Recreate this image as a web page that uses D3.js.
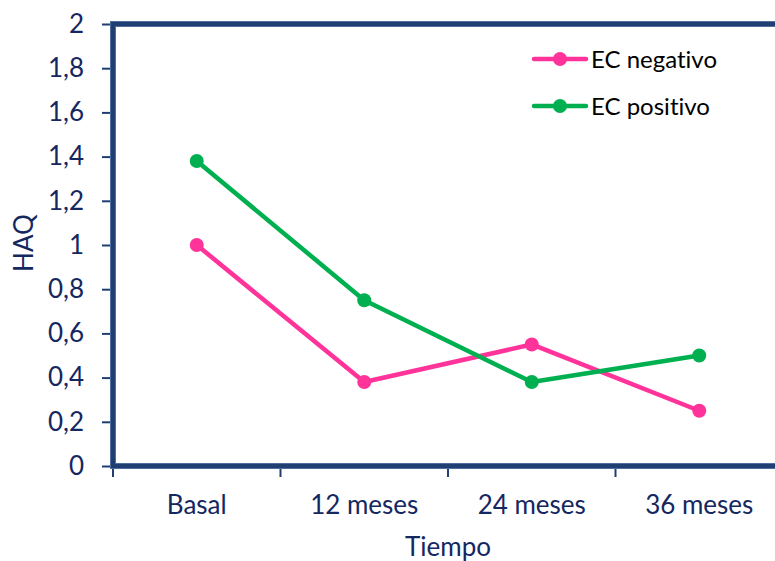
<!DOCTYPE html>
<html>
<head>
<meta charset="utf-8">
<script src="https://cdn.jsdelivr.net/npm/d3@7"></script>
<style>
  html, body { margin: 0; padding: 0; background: #fff; }
  svg { display: block; font-family: Lato, "Open Sans", sans-serif; font-variant-ligatures: none; font-feature-settings: "liga" 0, "clig" 0; }
</style>
</head>
<body>
<svg id="chart" width="775" height="561"></svg>
<script>
const categories = ["Basal", "12 meses", "24 meses", "36 meses"];
const ecNegativo = [1.0, 0.38, 0.55, 0.25];
const ecPositivo = [1.38, 0.75, 0.38, 0.5];
const yTicks = [0, 0.2, 0.4, 0.6, 0.8, 1, 1.2, 1.4, 1.6, 1.8, 2];
const seriesNames = ["EC negativo", "EC positivo"];
const seriesColors = ["#ff3399", "#00b050"];

const svg = d3.select("#chart");
const navy = "#14275f";
const frame = "#1f3f73";

const plotLeft = 113, plotRight = 783, plotTop = 24, plotBottom = 466;

const x = d3.scaleBand().domain(categories).range([plotLeft, plotRight]).padding(0);
const y = d3.scaleLinear().domain([0, 2]).range([plotBottom, plotTop]);

const fmt = d => d3.format("")(d).replace(".", ",");

// Y axis ticks and labels
const yAxis = d3.axisLeft(y).tickValues(yTicks).tickFormat(fmt).tickSize(9).tickPadding(18);
const gy = svg.append("g").attr("transform", `translate(${plotLeft - 2},0)`).call(yAxis);
gy.select(".domain").remove();
gy.selectAll(".tick line").attr("stroke", frame).attr("stroke-width", 2);
gy.selectAll(".tick text").attr("fill", navy).style("font-size", "26px").style("font-family", "Lato, sans-serif");

// X axis ticks at category boundaries
const boundaries = categories.map(c => x(c));
svg.append("g").selectAll("line").data(boundaries).join("line")
  .attr("x1", d => d).attr("x2", d => d)
  .attr("y1", plotBottom).attr("y2", plotBottom + 11)
  .attr("stroke", frame).attr("stroke-width", 2);

// X labels
svg.append("g").selectAll("text").data(categories).join("text")
  .attr("x", d => x(d) + x.bandwidth() / 2)
  .attr("y", 514)
  .attr("text-anchor", "middle")
  .attr("fill", navy)
  .style("font-size", "26px")
  .text(d => d);

// Plot frame (left, top, bottom)
const framePath = `M${plotRight + 10},${plotTop} L${plotLeft},${plotTop} L${plotLeft},${plotBottom} L${plotRight + 10},${plotBottom}`;
svg.append("path").attr("d", framePath).attr("fill", "none")
  .attr("stroke", "#4f6f9f").attr("stroke-width", 6);
svg.append("path").attr("d", framePath).attr("fill", "none")
  .attr("stroke", frame).attr("stroke-width", 4);

// Axis titles
svg.append("text")
  .attr("transform", "translate(33,243) rotate(-90)")
  .attr("text-anchor", "middle")
  .attr("fill", navy)
  .style("font-size", "26px")
  .text("HAQ");
svg.append("text")
  .attr("x", 448).attr("y", 556)
  .attr("text-anchor", "middle")
  .attr("fill", navy)
  .style("font-size", "26px")
  .text("Tiempo");

// Series
const series = [ecNegativo, ecPositivo];
const line = d3.line().x((d, i) => x(categories[i]) + x.bandwidth() / 2).y(d => y(d));
series.forEach((vals, s) => {
  const g = svg.append("g");
  g.append("path").datum(vals).attr("d", line)
    .attr("fill", "none").attr("stroke", seriesColors[s]).attr("stroke-width", 4.5)
    .attr("stroke-linejoin", "round");
  g.selectAll("circle").data(vals).join("circle")
    .attr("cx", (d, i) => x(categories[i]) + x.bandwidth() / 2)
    .attr("cy", d => y(d))
    .attr("r", 7)
    .attr("fill", seriesColors[s]);
});

// Legend
const legend = svg.append("g");
seriesNames.forEach((name, s) => {
  const ly = 59 + s * 47;
  legend.append("line").attr("x1", 534).attr("x2", 586).attr("y1", ly).attr("y2", ly)
    .attr("stroke", seriesColors[s]).attr("stroke-width", 4.5).attr("stroke-linecap", "round");
  legend.append("circle").attr("cx", 560).attr("cy", ly).attr("r", 7).attr("fill", seriesColors[s]);
  legend.append("text").attr("x", 591).attr("y", ly + 9)
    .attr("fill", "#000").style("font-size", "24px").text(name);
});
</script>
</body>
</html>
